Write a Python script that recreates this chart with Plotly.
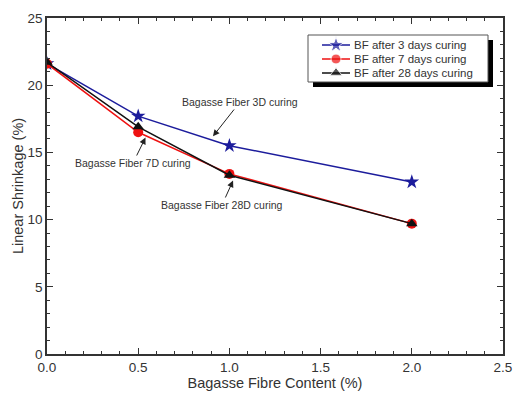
import plotly.graph_objects as go

fibre = [0.0, 0.5, 1.0, 2.0]
bf_3d = [21.6, 17.7, 15.5, 12.8]
bf_7d = [21.6, 16.5, 13.4, 9.7]
bf_28d = [21.7, 16.9, 13.3, 9.7]
series_names = ["BF after 3 days curing", "BF after 7 days curing", "BF after 28 days curing"]
series_colors = ["#1c1c9c", "#ee1111", "#111111"]
series_symbols = ["star", "circle", "triangle-up"]

FONT = "Liberation Sans, Arial"
GREY = "#333333"

W, H = 514, 396
# plot area in page pixels
PL, PR, PT, PB = 47, 503, 18, 354
L, T, R, B = PL, PT, W - PR, H - PB

fig = go.Figure()
for name, ys, col, sym in zip(series_names, [bf_3d, bf_7d, bf_28d], series_colors, series_symbols):
    fig.add_trace(go.Scatter(x=fibre, y=ys, mode="lines+markers", name=name, showlegend=False,
                             line=dict(color=col, width=1.5),
                             marker=dict(symbol=sym, size=11 if sym == "star" else 10, color=col)))

def px(x): return PL + x / 2.5 * (PR - PL)
def py(y): return PT + (25 - y) / 25 * (PB - PT)

ann_font = dict(family=FONT, size=10.5, color=GREY)
anns = [
    dict(x=0.91, y=16.2, text="Bagasse Fiber 3D curing", tx=240, ty=102),
    dict(x=0.54, y=16.1, text="Bagasse Fiber 7D curing", tx=133, ty=163),
    dict(x=1.02, y=12.9, text="Bagasse Fiber 28D curing", tx=222, ty=205),
]
for a in anns:
    fig.add_annotation(x=a["x"], y=a["y"], xref="x", yref="y", text=a["text"],
                       showarrow=True, arrowhead=2, arrowsize=1.3, arrowwidth=1, arrowcolor="#222222",
                       ax=a["tx"] - px(a["x"]), ay=a["ty"] - py(a["y"]), font=ann_font)

# custom legend on an overlay axis in page-pixel units
lx0, lx1, ly0, ly1 = 308, 488, 35, 82
fig.add_shape(type="rect", xref="x2", yref="y2", x0=lx0 + 5, x1=lx1 + 5, y0=ly0 + 5, y1=ly1 + 5,
              fillcolor="black", line=dict(width=0), layer="below")
fig.add_shape(type="rect", xref="x2", yref="y2", x0=lx0, x1=lx1, y0=ly0, y1=ly1,
              fillcolor="white", line=dict(color="#555555", width=1), layer="below")
row_y = [45, 59, 73]
for name, col, sym, ry in zip(series_names, series_colors, series_symbols, row_y):
    fig.add_shape(type="line", xref="x2", yref="y2", x0=322, x1=350, y0=ry, y1=ry,
                  line=dict(color=col, width=1.5), layer="below")
    fig.add_annotation(x=352, y=ry, xref="x2", yref="y2", text=name, showarrow=False,
                       xanchor="left", yanchor="middle", font=dict(family=FONT, size=11.5, color=GREY))
fig.add_trace(go.Scatter(x=[336, 336, 336], y=row_y, xaxis="x2", yaxis="y2", mode="markers",
                         showlegend=False, hoverinfo="skip", cliponaxis=False,
                         marker=dict(symbol=series_symbols, color=series_colors, size=[12, 10, 11])))

axis_common = dict(showline=True, linecolor=GREY, linewidth=1.5, mirror="ticks",
                   ticks="inside", ticklen=6, tickcolor=GREY, showgrid=False, zeroline=False,
                   automargin=False,
                   tickfont=dict(family=FONT, size=13.5, color=GREY))
fig.update_xaxes(range=[0, 2.5], dtick=0.5, tickformat=".1f",
                 minor=dict(dtick=0.1, ticks="inside", ticklen=3, tickcolor=GREY),
                 title=dict(text="Bagasse Fibre Content (%)", font=dict(family=FONT, size=14.5, color=GREY), standoff=3),
                 **axis_common)
fig.update_yaxes(range=[0, 25], dtick=5,
                 minor=dict(dtick=1, ticks="inside", ticklen=3, tickcolor=GREY),
                 title=dict(text="Linear Shrinkage (%)", font=dict(family=FONT, size=14.5, color=GREY), standoff=0),
                 **axis_common)

fig.update_layout(width=W, height=H, margin=dict(l=L, r=R, t=T, b=B),
                  plot_bgcolor="white", paper_bgcolor="white", showlegend=False,
                  xaxis2=dict(overlaying="x", range=[PL, PR], visible=False, fixedrange=True),
                  yaxis2=dict(overlaying="y", range=[PB, PT], visible=False, fixedrange=True))

fig.write_html("out.html", config={"displayModeBar": False},
               post_script="document.body.style.margin='0';document.body.style.overflow='hidden';")
